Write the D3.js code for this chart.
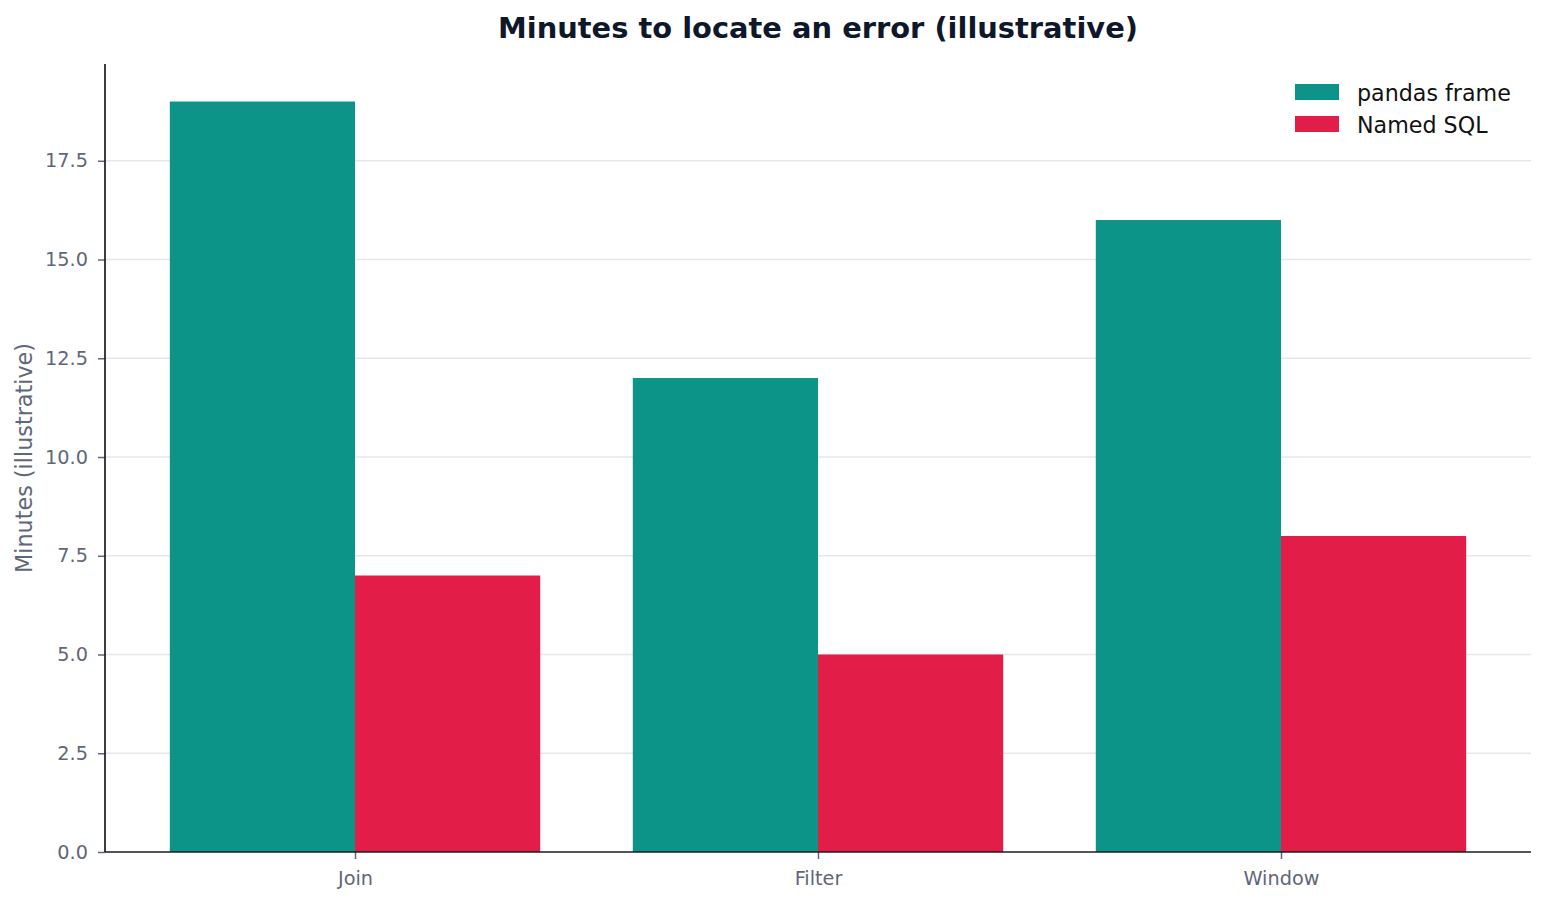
<!DOCTYPE html>
<html>
<head>
<meta charset="utf-8">
<script src="https://cdn.jsdelivr.net/npm/d3@7"></script>
<style>
  body { margin: 0; background: #fff; }
  text { font-family: "DejaVu Sans", sans-serif; }
</style>
</head>
<body>
<div class="chart"></div>
<script>
const categories = ["Join", "Filter", "Window"];
const seriesNames = ["pandas frame", "Named SQL"];
const pandasValues = [19, 12, 16];
const sqlValues = [7, 5, 8];
const yTicks = [0, 2.5, 5, 7.5, 10, 12.5, 15, 17.5];

const colors = ["#0d9488", "#e11d48"];
const textGray = "#5f6779";

const width = 1547, height = 903;
const margin = { top: 64, right: 16, bottom: 51, left: 105 };
const innerW = width - margin.left - margin.right;
const innerH = height - margin.top - margin.bottom;

const svg = d3.select(".chart").append("svg")
  .attr("width", width)
  .attr("height", height);

const g = svg.append("g").attr("transform", `translate(${margin.left},${margin.top})`);

// bars sit at 0,1,2 with width 0.4 each, 5% padding at both ends
const groupW = 0.8;
const xMin = -groupW / 2, xMax = categories.length - 1 + groupW / 2;
const pad = (xMax - xMin) * 0.05;
const x = d3.scaleLinear().domain([xMin - pad, xMax + pad]).range([0, innerW]);

const yMax = d3.max(pandasValues.concat(sqlValues)) * 1.05;
const y = d3.scaleLinear().domain([0, yMax]).range([innerH, 0]);

// grid
g.append("g").selectAll("line").data(yTicks.filter(d => d > 0)).enter().append("line")
  .attr("x1", 0).attr("x2", innerW)
  .attr("y1", d => y(d)).attr("y2", d => y(d))
  .attr("stroke", "#e5e7eb").attr("stroke-width", 1.5);

// bars
const series = [pandasValues, sqlValues];
series.forEach((vals, s) => {
  const left = i => i - groupW / 2 + s * groupW / 2;
  g.append("g").selectAll("rect").data(vals).enter().append("rect")
    .attr("x", (d, i) => x(left(i)))
    .attr("width", (d, i) => x(left(i) + groupW / 2) - x(left(i)))
    .attr("y", d => y(d))
    .attr("height", d => y(0) - y(d))
    .attr("fill", colors[s]);
});

// y axis
const yAxis = d3.axisLeft(y).tickValues(yTicks).tickFormat(d3.format(".1f")).tickSize(7).tickPadding(10);
const yg = g.append("g").call(yAxis);
yg.select(".domain").remove();
yg.selectAll(".tick line").attr("stroke", textGray).attr("stroke-width", 1.5);
yg.selectAll(".tick text").attr("fill", textGray).attr("font-size", 19.3).attr("font-family", "DejaVu Sans");

// x axis
const xAxis = d3.axisBottom(x).tickValues(categories.map((c, i) => i)).tickFormat(i => categories[i]).tickSize(7).tickPadding(12);
const xg = g.append("g").attr("transform", `translate(0,${innerH})`).call(xAxis);
xg.select(".domain").remove();
xg.selectAll(".tick line").attr("stroke", textGray).attr("stroke-width", 1.5);
xg.selectAll(".tick text").attr("fill", textGray).attr("font-size", 19.3).attr("font-family", "DejaVu Sans");

// spines
g.append("line").attr("x1", 0).attr("x2", 0).attr("y1", 0).attr("y2", innerH)
  .attr("stroke", "#1c1c1c").attr("stroke-width", 1.7);
g.append("line").attr("x1", 0).attr("x2", innerW).attr("y1", innerH).attr("y2", innerH)
  .attr("stroke", "#1c1c1c").attr("stroke-width", 1.7);

// title
svg.append("text")
  .attr("x", margin.left + innerW / 2).attr("y", 38)
  .attr("text-anchor", "middle")
  .attr("font-size", 28.9).attr("font-weight", "bold")
  .attr("fill", "#0f172a")
  .text("Minutes to locate an error (illustrative)");

// y label
svg.append("text")
  .attr("transform", `translate(32,${margin.top + innerH / 2}) rotate(-90)`)
  .attr("text-anchor", "middle")
  .attr("font-size", 22.3)
  .attr("fill", textGray)
  .text("Minutes (illustrative)");

// legend
const legend = svg.append("g").attr("transform", "translate(1295,84)");
seriesNames.forEach((name, i) => {
  legend.append("rect").attr("x", 0).attr("y", i * 32).attr("width", 44).attr("height", 16).attr("fill", colors[i]);
  legend.append("text").attr("x", 62).attr("y", i * 32 + 17)
    .attr("font-size", 22.2).attr("fill", "#111")
    .text(name);
});
</script>
</body>
</html>
